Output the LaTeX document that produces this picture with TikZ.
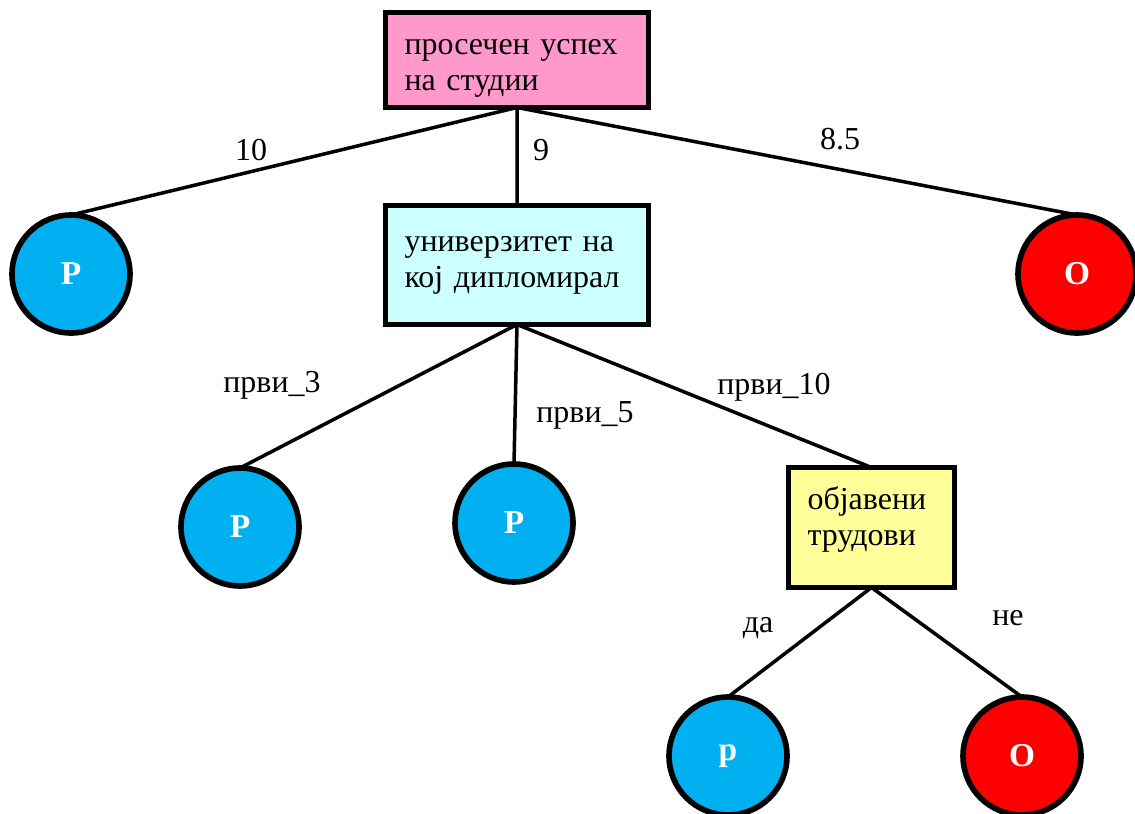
\documentclass[tikz,border=0pt]{standalone}
\usepackage{fontspec}
\setmainfont{Liberation Serif}
\definecolor{pinkbox}{HTML}{FF99CC}
\definecolor{cyanbox}{HTML}{CCFFFF}
\definecolor{yellowbox}{HTML}{FFFF99}
\definecolor{leafblue}{HTML}{00B0F0}
\definecolor{leafred}{HTML}{FF0000}
\begin{document}
\begin{tikzpicture}[x=0.02cm,y=-0.02cm,font=\fontsize{18.2}{20.5}\selectfont,
	box/.style={draw,fill=#1,line width=2.8pt,inner xsep=0.38cm,inner ysep=0pt,outer sep=0pt,align=left},
	leaf/.style={circle,draw,fill=#1,line width=3.2pt,minimum size=2.36cm,inner sep=0pt,outer sep=0pt,text=white,font=\fontsize{19}{20}\selectfont\bfseries},
	edge/.style={line width=2pt}]
		\useasboundingbox (0,0) rectangle (1135,814);
		% decision boxes (rules nudge the text up or down)
		\node[box=pinkbox,text width=4.5cm,minimum height=1.9cm] (uspeh) at (517,60) {\rule{0pt}{0.65cm}просечен успех\\на студии};
		\node[box=cyanbox,text width=4.5cm,minimum height=2.38cm] (univ) at (517,265) {универзитет на\\кој дипломирал};
		\node[box=yellowbox,text width=2.56cm,minimum height=2.4cm] (trud) at (871.5,527.5) {објавени\\трудови\rule[-0.44cm]{0pt}{0.44cm}};
		% leaves
		\foreach \ime/\x/\y/\boja/\bukva in {l1/71/274/leafblue/Р,l2/240/527/leafblue/Р,l3/514/523/leafblue/Р,l4/728/756/leafblue/р,l5/1022/756/leafred/О,l6/1077/274/leafred/О}
		\node[leaf=\boja] (\ime) at (\x,\y) {\bukva};
		% branches
		\draw[edge] (uspeh.south)--(l1.north) (uspeh.south)--(univ.north) (uspeh.south)--(l6.north);
		\draw[edge] (univ.south)--(l2.north) (univ.south)--(l3.north) (univ.south)--(trud.north);
		\draw[edge] (trud.south)--(l4.north) (trud.south)--(l5.north);
		% branch labels
		\foreach \ime/\x/\y/\tekst in {t10/251/150/10,t9/541/150/9,t85/840/139/8.5,tp3/272/385/први\_3,tp5/585/415/први\_5,tp10/774/387/први\_10,tda/758/628/да,tne/1008/618/не}
		\node (\ime) at (\x,\y) {\tekst};
	\end{tikzpicture}
\end{document}
